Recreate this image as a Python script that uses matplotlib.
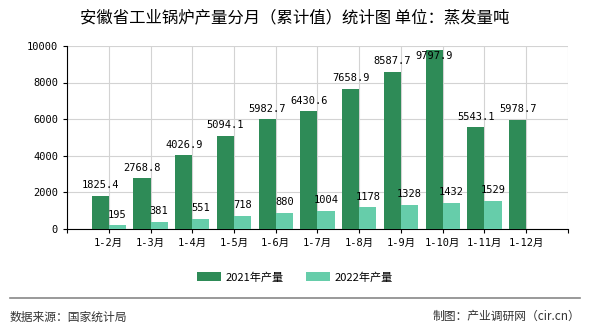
import matplotlib.pyplot as plt
import numpy as np

plt.rcParams['font.family'] = ['Noto Sans CJK SC', 'DejaVu Sans']
MONO = ['DejaVu Sans Mono', 'Noto Sans CJK SC']

categories = ["1-2月", "1-3月", "1-4月", "1-5月", "1-6月", "1-7月",
              "1-8月", "1-9月", "1-10月", "1-11月", "1-12月"]
y2021 = [1825.4, 2768.8, 4026.9, 5094.1, 5982.7, 6430.6,
         7658.9, 8587.7, 9797.9, 5543.1, 5978.7]
y2022 = [195, 381, 551, 718, 880, 1004, 1178, 1328, 1432, 1529]
lab2021 = ["1825.4", "2768.8", "4026.9", "5094.1", "5982.7", "6430.6",
           "7658.9", "8587.7", "9797.9", "5543.1", "5978.7"]

c21 = "#2e8b57"
c22 = "#66cdaa"

fig = plt.figure(figsize=(5.9, 3.3), dpi=100)
ax = fig.add_axes([0.1136, 0.306, 0.849, 0.555])

x = np.arange(len(categories))
w = 0.41
b1 = ax.bar(x[:len(y2021)] - w / 2, y2021, w, color=c21, label="2021年产量", zorder=3)
b2 = ax.bar(x[:len(y2022)] + w / 2, y2022, w, color=c22, label="2022年产量", zorder=3)

ymax = 10000
for xi, v, t in zip(x, y2021, lab2021):
    if v > ymax * 0.93:
        # keep label inside the plot area
        ax.annotate(t, (xi - w / 2, ymax), xytext=(0, -4), textcoords="offset points",
                    ha="center", va="top", fontsize=7.5, family=MONO, zorder=4)
    else:
        ax.annotate(t, (xi - w / 2, v), xytext=(0, 4), textcoords="offset points",
                    ha="center", va="bottom", fontsize=7.5, family=MONO, zorder=4)
for xi, v in zip(x, y2022):
    ax.annotate(str(v), (xi + w / 2, v), xytext=(0, 4), textcoords="offset points",
                ha="center", va="bottom", fontsize=7.5, family=MONO, zorder=4)

ax.set_xlim(-1, 11)
ax.set_ylim(0, ymax)
ax.set_yticks(np.arange(0, 10001, 2000))
ax.set_xticks(np.arange(-1, 12))
ax.set_xticklabels([""] + categories + [""])
ax.tick_params(axis="both", labelsize=7.5, length=3, color="#000000")
for lb in ax.get_yticklabels() + ax.get_xticklabels():
    lb.set_family(MONO)
ax.grid(True, color="#d3d3d3", linewidth=0.8, zorder=0)
for s in ["top", "right"]:
    ax.spines[s].set_visible(False)
ax.spines["left"].set_color("#000000")
ax.spines["bottom"].set_color("#000000")

fig.text(0.5, 0.945, "安徽省工业锅炉产量分月（累计值）统计图 单位：蒸发量吨",
         ha="center", va="center", fontsize=11.8)

fig.legend(handles=[b1, b2], loc="center", bbox_to_anchor=(0.5, 0.16), ncol=2,
           frameon=False, fontsize=8, handlelength=2.2, handleheight=0.9,
           columnspacing=2.0, handletextpad=0.4)

fig.add_artist(plt.Line2D([0.017, 0.983], [0.097, 0.097], color="#888888", linewidth=1.2,
                          transform=fig.transFigure))
fig.text(0.017, 0.04, "数据来源：国家统计局", ha="left", va="center", fontsize=8.5, color="#333333")
fig.text(0.983, 0.04, "制图：产业调研网（cir.cn）", ha="right", va="center", fontsize=8.5, color="#333333")

fig.savefig("out.png", dpi=100)
